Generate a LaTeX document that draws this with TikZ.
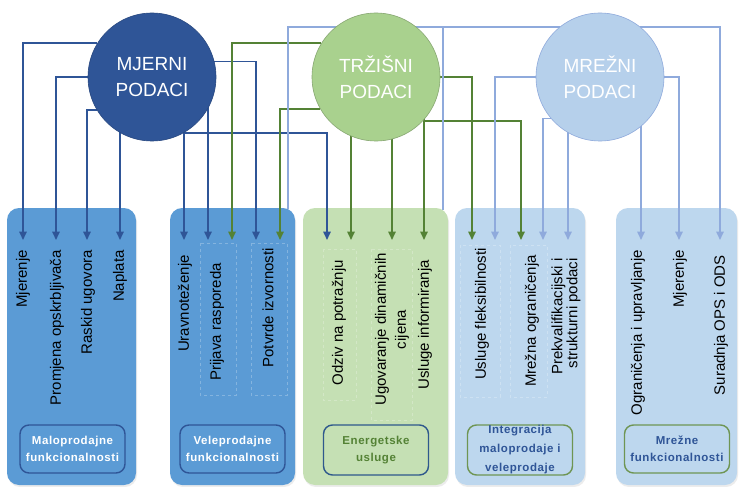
\documentclass[tikz,border=0pt]{standalone}
\usepackage{fontspec}
\setmainfont{Liberation Sans}
\newfontfamily\tagfont[LetterSpace=5]{Liberation Sans}
\usetikzlibrary{arrows.meta,shadows}
\pgfdeclarelayer{front}
\pgfsetlayers{main,front}

\definecolor{dkblue}{RGB}{47,85,151}
\definecolor{midblue}{RGB}{91,155,213}
\definecolor{ltblue}{RGB}{189,215,238}
\definecolor{lnblue}{RGB}{143,170,220}
\definecolor{ltgreen}{RGB}{197,224,180}
\definecolor{cgreen}{RGB}{169,209,142}
\definecolor{dkgreen}{RGB}{84,130,53}
\definecolor{tagblue}{RGB}{46,88,140}

\begin{document}
\begin{tikzpicture}[x=1pt,y=-1pt,
  panel/.style={rounded corners=12pt,inner sep=0pt,minimum height=277pt,
    drop shadow={opacity=0.15,shadow xshift=1pt,shadow yshift=-2pt}},
  tag/.style={draw,rounded corners=9pt,line width=1.4pt,minimum width=105pt,
    minimum height=48pt,align=center,inner sep=0pt,
    font=\tagfont\bfseries\fontsize{11.5}{16.5}\selectfont},
  func/.style={rotate=90,anchor=east,inner sep=0pt,font=\fontsize{15}{18}\selectfont},
  hub/.style={circle,minimum size=128pt,inner sep=0pt,align=center,text=white,
    line width=0.6pt,font=\fontsize{19}{26}\selectfont},
  sub/.style={draw=white,draw opacity=0.25,dashed,line width=0.5pt},
  mline/.style={draw=dkblue,line width=1.6pt},
  tline/.style={draw=dkgreen,line width=1.6pt},
  nline/.style={draw=lnblue,line width=1.6pt},
  tip/.style={-{Triangle[width=7.5pt,length=8.5pt]}}]
\path[use as bounding box,fill=white] (0,0) rectangle (742,487);

\node[panel,fill=midblue,minimum width=129pt] (P1) at (71.5,346.5) {};
\node[panel,fill=midblue,minimum width=125pt] (P2) at (232.5,346.5) {};
\node[panel,fill=ltgreen,minimum width=145pt] (P3) at (375.5,346.5) {};
\node[panel,fill=ltblue,minimum width=130pt] (P4) at (520,346.5) {};
\node[panel,fill=ltblue,minimum width=121pt] (P5) at (676.5,346.5) {};

\draw[sub] (200,243) rectangle (236,395);
\draw[sub] (251,243) rectangle (287,395);
\draw[sub] (323,249) rectangle (356,400);
\draw[sub] (371,249) rectangle (412,420);
\draw[sub] (460,245) rectangle (500,397);
\draw[sub] (510,245) rectangle (547,397);

\node[func] (f1) at (23,250) {Mjerenje};
\node[func] (f2) at (57,250) {Promjena opskrbljivača};
\node[func] (f3) at (88,250) {Raskid ugovora};
\node[func] (f4) at (120,250) {Naplata};
\node[func] (f5) at (185,255) {Uravnoteženje};
\node[func] (f6) at (217,263) {Prijava rasporeda};
\node[func] (f7) at (268,248) {Potvrde izvornosti};
\node[func] (f8) at (339,260) {Odziv na potražnju};
\node[func,align=center,font=\fontsize{15}{20}\selectfont] (f9) at (392,253) {Ugovaranje dinamičnih\\cijena};
\node[func] (f10) at (425,260) {Usluge informiranja};
\node[func] (f11) at (482,248) {Usluge fleksibilnosti};
\node[func] (f12) at (532,255) {Mrežna ograničenja};
\node[func,align=right,font=\fontsize{15}{15}\selectfont] (f13) at (566,258) {Prekvalifikacijski i\\strukturni podaci};
\node[func] (f14) at (638,250) {Ograničenja i upravljanje};
\node[func] (f15) at (680,250) {Mjerenje};
\node[func] (f16) at (721,255) {Suradnja OPS i ODS};

\node[tag,draw=dkblue,text=white] (T1) at (72.5,449) {Maloprodajne\\funkcionalnosti};
\node[tag,draw=dkblue,text=white] (T2) at (232.5,449) {Veleprodajne\\funkcionalnosti};
\node[tag,draw=tagblue,text=dkgreen,minimum height=50pt] (T3) at (376,450) {Energetske\\usluge};
\node[tag,draw=dkgreen!85,text=dkblue,minimum height=50pt,
  font=\tagfont\bfseries\fontsize{11.5}{19}\selectfont] (T4) at (520,450) {Integracija\\maloprodaje i\\veleprodaje};
\node[tag,draw=dkgreen!85,text=dkblue] (T5) at (677,449) {Mrežne\\funkcionalnosti};

\begin{pgfonlayer}{front}
\node[hub,fill=dkblue,draw=dkblue!85!black] (MJ) at (152,77) {MJERNI\\PODACI};
\node[hub,fill=cgreen,draw=dkgreen!70] (TR) at (376,77) {TRŽIŠNI\\PODACI};
\node[hub,fill=ltblue!85!lnblue,draw=lnblue] (MR) at (600,77) {MREŽNI\\PODACI};
\end{pgfonlayer}

\coordinate (m1) at (23,240);
\coordinate (m2) at (56,240);
\coordinate (m3) at (87,240);
\coordinate (m4) at (120,240);
\coordinate (v1) at (184,240);
\coordinate (v2) at (208,240);
\coordinate (v3) at (232,240);
\coordinate (v4) at (256,240);
\coordinate (v5) at (280,240);
\coordinate (e1) at (327,240);
\coordinate (e2) at (351,240);
\coordinate (e3) at (392,240);
\coordinate (e4) at (424,240);
\coordinate (i1) at (472,240);
\coordinate (i2) at (495,240);
\coordinate (i3) at (521,240);
\coordinate (i4) at (543,240);
\coordinate (i5) at (568,240);
\coordinate (n1) at (641,240);
\coordinate (n2) at (679,240);
\coordinate (n3) at (720,240);
\coordinate (vtop) at (288,209);
\coordinate (etop) at (443,210);

\draw[mline,tip] (MJ.148) -| (m1);
\draw[mline,tip] (MJ.west) -| (m2);
\draw[mline,tip] (MJ.211) -| (m3);
\draw[mline,tip] (m4 |- MJ.center) -- (m4);
\draw[mline,tip] (v1 |- MJ.299) -- (v1);
\draw[mline,tip] (v2 |- MJ.center) -- (v2);
\draw[mline,tip] (MJ.14) -| (v4);
\draw[mline,tip] (MJ.299) -| (e1);

\draw[tline,tip] (TR.148) -| (v3);
\draw[tline,tip] (TR.210) -| (v5);
\draw[tline,tip] (e2 |- TR.center) -- (e2);
\draw[tline,tip] (e3 |- TR.center) -- (e3);
\draw[tline,tip] (e4 |- TR.center) -- (e4);
\draw[tline,tip] (TR.east) -| (i1);
\draw[tline,tip] (TR.317) -| (i3);

\draw[nline] (MR.129) -| (vtop);
\draw[nline] (etop |- MR.129) -- (etop);
\draw[nline,tip] (MR.west) -| (i2);
\draw[nline,tip] (MR.220) -| (i4);
\draw[nline,tip] (i5 |- MR.center) -- (i5);
\draw[nline,tip] (n1 |- MR.center) -- (n1);
\draw[nline,tip] (MR.east) -| (n2);
\draw[nline,tip] (MR.51) -| (n3);
\end{tikzpicture}
\end{document}
